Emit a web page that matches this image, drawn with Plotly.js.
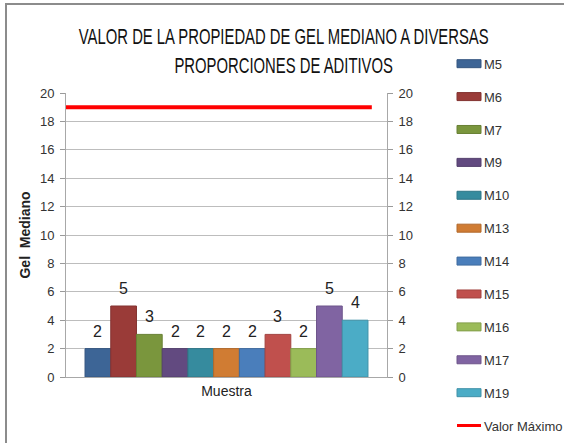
<!DOCTYPE html>
<html><head><meta charset="utf-8">
<script src="https://cdn.plot.ly/plotly-3.0.1.min.js"></script>
<style>
html,body{margin:0;padding:0;background:#fff;overflow:hidden}
#chart{width:564px;height:443px}
#frame{position:absolute;left:5px;top:3px;width:557px;height:438px;border-left:2px solid #8c8c8c;border-top:2px solid #8c8c8c;pointer-events:none}
</style>
</head><body>
<div id="chart"></div><div id="frame"></div>
<script>
// ---- data ----
const categories = ['M5','M6','M7','M9','M10','M13','M14','M15','M16','M17','M19'];
const values = [2,5,3,2,2,2,2,3,2,5,4];
const barColors = ['#3D6596','#9A3B38','#7A963D','#624A80','#368B9E','#D07C33','#4A7EBB','#C0504D','#9BBB59','#8064A2','#4BACC6'];
const maxName = 'Valor Máximo';
const maxValue = 19;
const yTicks = [0,2,4,6,8,10,12,14,16,18,20];

// ---- layout constants ----
const xRange = [-1.24, 11.24];
const lineExtent = [-1.24, 10.65];
const sans = '"Liberation Sans", Arial, sans-serif';

function darker(hex, f){
  const n = parseInt(hex.slice(1),16);
  const r = Math.round(((n>>16)&255)*f), g = Math.round(((n>>8)&255)*f), b = Math.round((n&255)*f);
  return 'rgb('+r+','+g+','+b+')';
}

const traces = categories.map((c,i)=>({
  type:'bar', name:c, x:[i], y:[values[i]], width:1,
  marker:{color:barColors[i], line:{color:darker(barColors[i],0.85), width:1}},
  legendgroup:c, hoverinfo:'y'
}));
traces.push({
  type:'scatter', mode:'lines', name:maxName, legendgroup:'max',
  x:lineExtent, y:lineExtent.map(()=>maxValue),
  line:{color:'#FF0000', width:4}
});
traces.push({type:'scatter', mode:'none', x:[0], y:[0], yaxis:'y2', showlegend:false, hoverinfo:'skip'});

const annotations = categories.map((c,i)=>({
  x:i, y:values[i], xref:'x', yref:'y', text:String(values[i]), showarrow:false,
  yanchor:'bottom', yshift:7, font:{family:sans, size:16, color:'#222'}
}));

const axisY = {
  range:[0,20], tickvals:yTicks, ticks:'outside', ticklen:5, tickcolor:'#9a9a9a',
  showline:true, linecolor:'#a8a8a8', linewidth:1, ticklabelstandoff:3,
  tickfont:{family:sans, size:13, color:'#333'}, fixedrange:true
};

const layout = {
  width:564, height:443,
  margin:{l:66, r:177, t:93, b:66, autoexpand:false},
  paper_bgcolor:'#fff', plot_bgcolor:'#fff',
  font:{family:sans},
  title:{
    text:'VALOR DE LA PROPIEDAD DE GEL MEDIANO A DIVERSAS<br>PROPORCIONES DE ADITIVOS',
    x:0.503, xref:'container', xanchor:'center', y:0.90, yref:'container', yanchor:'top',
    font:{family:sans, size:22, color:'#111'}
  },
  xaxis:{range:xRange, showticklabels:false, ticks:'', showgrid:false, zeroline:false,
    showline:true, linecolor:'#a8a8a8', linewidth:1,
    title:{text:'Muestra', font:{family:sans, size:14, color:'#222'}, standoff:9}, fixedrange:true},
  yaxis:Object.assign({}, axisY, {showgrid:true, gridcolor:'#bdbdbd', gridwidth:1, zeroline:false,
    title:{text:'Gel  Mediano', font:{family:sans, size:14, color:'#222', weight:'bold'}, standoff:6}}),
  yaxis2:Object.assign({}, axisY, {overlaying:'y', side:'right', showgrid:false, zeroline:false}),
  bargap:0,
  showlegend:true,
  legend:{x:1.1776, xanchor:'left', yref:'container', y:0.89, yanchor:'top', tracegroupgap:13,
    maxheight:440,
    font:{family:sans, size:13, color:'#333'}, bgcolor:'rgba(0,0,0,0)'},
  annotations:annotations
};

function tweak(gd){
  gd.querySelectorAll('.legend .legendpoints path').forEach(p=>{
    const d = p.getAttribute('d') || '';
    if(d.indexOf('M6,6H-6V-6H6Z') === 0) p.setAttribute('d','M17,4H-7V-4H17Z');
  });
  gd.querySelectorAll('.legend .legendlines path').forEach(p=>{
    p.setAttribute('d','M13,0h24');
    p.style.strokeWidth = '3px';
  });
  const t = gd.querySelector('.gtitle');
  if(t){
    const cx = parseFloat(t.getAttribute('x'));
    t.setAttribute('transform','translate('+cx+',0) scale(0.675,1) translate('+(-cx)+',0)');
  }
}

Plotly.newPlot('chart', traces, layout, {displayModeBar:false, staticPlot:true}).then(gd=>{
  tweak(gd);
  gd.on('plotly_afterplot', ()=>tweak(gd));
  setTimeout(()=>tweak(gd), 50);
});
</script>
</body></html>
